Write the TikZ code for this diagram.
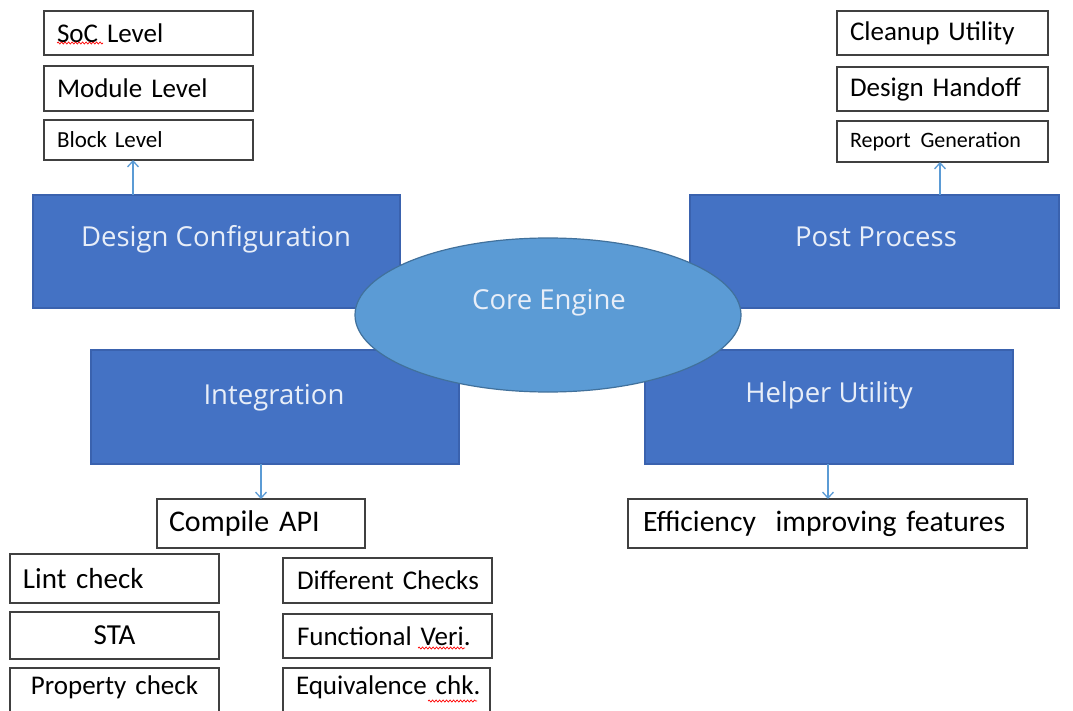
\documentclass[tikz,border=0pt]{standalone}
\usepackage{fontspec}
\setmainfont{Carlito}
\newfontfamily\lblfont{Open Sans}
\usetikzlibrary{shapes.geometric,arrows.meta,calc,decorations.pathmorphing}
\definecolor{boxblue}{HTML}{4472C4}
\definecolor{boxedge}{HTML}{3A62AE}
\definecolor{ellfill}{HTML}{5B9BD5}
\definecolor{elledge}{HTML}{41719C}
\definecolor{arrowc}{HTML}{5B9BD5}
\definecolor{wedge}{HTML}{404040}
\definecolor{lbltext}{HTML}{E8EEF8}
\begin{document}
\begin{tikzpicture}[x=1pt,y=-1pt,
  blk/.style={draw=boxedge, fill=boxblue, line width=1.2pt, inner sep=0pt, outer sep=0pt, anchor=north west},
  ell/.style={ellipse, draw=elledge, fill=ellfill, line width=1.2pt, inner sep=0pt, outer sep=0pt},
  lbl/.style={font=\lblfont\fontsize{27.5}{32}\selectfont, text=lbltext, anchor=base, inner sep=0pt},
  wbox/.style={draw=wedge, fill=white, line width=1.6pt, outer sep=0pt, inner ysep=0pt, anchor=north west, text=black},
  wl/.style={wbox, align=left},
  wc/.style={wbox, align=center},
  f27/.style={font=\fontsize{27}{30}\selectfont},
  f29/.style={font=\fontsize{29}{32}\selectfont},
  arr/.style={draw=arrowc, line width=1.3pt, -{Straight Barb[length=6pt,width=11pt]}},
  spell/.style={draw=red, line width=0.7pt, decorate, decoration={snake, amplitude=1pt, segment length=3.5pt}}
]
\clip (0,0) rectangle (1073,711);
\fill[white] (0,0) rectangle (1073,711);

% top-left list
\node[wl, f27, minimum height=44, text width=183, inner xsep=13] (soc) at (44,11) {\mbox{SoC Level}};
\node[wl, f27, minimum height=45, text width=183, inner xsep=13] (mod) at (44,66) {\mbox{Module Level}};
\node[wl, font=\fontsize{23}{26}\selectfont, minimum height=40, text width=183, inner xsep=13] (blkl) at (44,120) {\mbox{Block Level}};

% top-right list
\node[wl, f27, minimum height=44, text width=185, inner xsep=13] (clean) at (837,11) {\mbox{Cleanup Utility}};
\node[wl, f27, minimum height=44, text width=185, inner xsep=13] (hand) at (837,67) {\mbox{Design Handoff}};
\node[wl, font=\fontsize{22}{25}\selectfont, minimum height=41, text width=185, inner xsep=13] (rep) at (837,121) {\mbox{Report\hspace{0.45em}Generation}};

% blue rectangles
\node[blk, minimum width=367, minimum height=113] (dc) at (33,195) {};
\node[blk, minimum width=369, minimum height=113] (pp) at (690,195) {};
\node[blk, minimum width=368, minimum height=114] (integ) at (91,350) {};
\node[blk, minimum width=368, minimum height=114] (help) at (645,350) {};

% core ellipse
\node[ell, minimum width=386, minimum height=154] (core) at (548,315) {};

% labels
\node[lbl] (dct) at (216,247) {Design Configuration};
\node[lbl] (ppt) at (876,247) {Post Process};
\node[lbl] (intt) at (274,404) {Integration};
\node[lbl] (helpt) at (829,402) {Helper Utility};
\node[lbl] (coret) at (549,309) {Core Engine};

% lower boxes
\node[wl, font=\fontsize{30}{33}\selectfont, minimum height=49, text width=184, inner xsep=12] (comp) at (157,499) {\mbox{Compile API}};
\node[wl, font=\fontsize{29.6}{33}\selectfont, minimum height=49, text width=369, inner xsep=15] (eff) at (628,499) {\mbox{Efficiency\ \ improving features}};

\node[wl, f29, minimum height=49, text width=183, inner xsep=13] (lint) at (10,554) {\mbox{Lint check}};
\node[wc, f29, minimum height=47, text width=183, inner xsep=13] (sta) at (10,612) {\mbox{STA}};
\node[wc, f27, minimum height=52, text width=183, inner xsep=13, text height=18pt, text depth=16.7pt] (prop) at (10,668) {\mbox{Property check}};

\node[wl, f27, minimum height=45, text width=181, inner xsep=14] (diff) at (283,558) {\mbox{Different Checks}};
\node[wl, f27, minimum height=44, text width=181, inner xsep=14] (func) at (283,614) {\mbox{Functional Veri.}};
\node[wl, f27, minimum height=52, text width=181, inner xsep=13, text height=18pt, text depth=16.7pt] (equiv) at (283,668) {\mbox{Equivalence chk.}};

% spell-check marks
\draw[spell] ($(soc.north west)+(13,32)$) -- ($(soc.north west)+(59,32)$);
\draw[spell] ($(func.north west)+(135,34)$) -- ($(func.north west)+(182,34)$);
\draw[spell] ($(equiv.north west)+(145,33)$) -- ($(equiv.north west)+(194,33)$);

% connectors
\draw[arr] ([xshift=100pt]dc.north west) -- ([xshift=100pt]dc.north west |- blkl.south);
\draw[arr] ([xshift=250pt]pp.north west) -- ([xshift=250pt]pp.north west |- rep.south);
\draw[arr] ([xshift=170pt]integ.south west) -- ([xshift=170pt]integ.south west |- comp.north);
\draw[arr] ([xshift=183pt]help.south west) -- ([xshift=183pt]help.south west |- eff.north);
\end{tikzpicture}
\end{document}
